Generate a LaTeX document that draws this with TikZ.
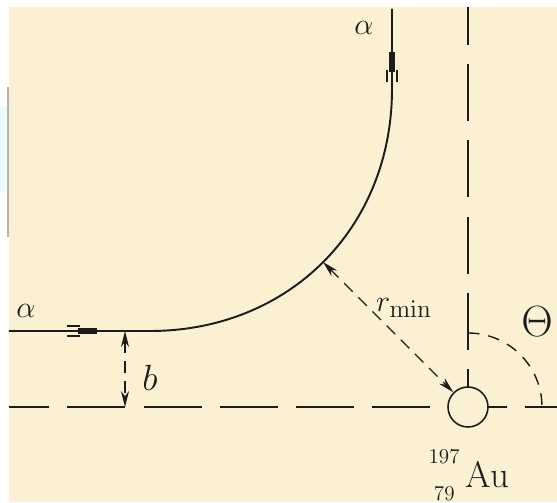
\documentclass[tikz,border=0pt]{standalone}
\usepackage[table]{xcolor}
\definecolor{cream}{HTML}{FCF0D2}
\definecolor{ink}{HTML}{1C1C1C}
\definecolor{edgegray}{HTML}{B4B4B4}
\definecolor{paleblue}{HTML}{EEFBFB}
\usepackage{amsmath,amssymb}
\usepackage{tikz}
\usetikzlibrary{arrows.meta,calc}
\tikzset{track/.style={draw=ink,line width=1.1pt},axis/.style={draw=ink,line width=1.1pt,dash pattern=on 1.16cm off 0.365cm},dimarr/.style={<->,>={Stealth[length=3.2mm,width=1.6mm]},draw=ink,line width=0.8pt,dash pattern=on 0.24cm off 0.16cm},lbl/.style={text=ink,inner sep=0pt}}

\begin{document}
\begin{tikzpicture}[font=\normalsize]
\clip (0,0) rectangle (11.14,10.04);
\fill[white] (0,0) rectangle (11.14,10.04);
\fill[cream] (0.18,0) rectangle (11.14,9.90);
\fill[paleblue] (0,6.2) rectangle (0.14,7.9);
\draw[edgegray,line width=0.6pt] (0.16,5.30) -- (0.16,8.30);
% axes through the gold nucleus
\draw[axis,dash phase=0.36cm] (0.18,1.90) -- (11.14,1.90);
\draw[axis,dash pattern=on 1.14cm off 0.385cm,dash phase=0.38cm] (9.36,9.90) -- (9.36,1.90);
\node[circle,draw=ink,line width=0.9pt,fill=cream,minimum size=0.8cm,inner sep=0pt] (nuc) at (9.36,1.90) {};
% alpha track
\coordinate (vtx) at (6.46,4.80);
\draw[track] (0.18,3.42) -- (3.00,3.42) .. controls (5.78,3.42) and (7.84,5.48) .. (7.84,8.26) -- (7.84,9.86);
\draw[ink,line width=3.6pt] (1.56,3.42) -- (1.94,3.42);
\draw[ink,line width=0.8pt] (1.34,3.52) -- (1.60,3.52) (1.34,3.32) -- (1.60,3.32);
\draw[ink,line width=3.6pt] (7.84,8.60) -- (7.84,9.00);
\draw[ink,line width=0.8pt] (7.74,8.40) -- (7.74,8.64) (7.94,8.40) -- (7.94,8.64);
% impact parameter, closest approach, angle
\coordinate (btop) at (2.50,3.42);
\coordinate (bbot) at (2.50,1.90);
\draw[dimarr] (btop) -- (bbot);
\draw[dimarr] (vtx) -- (nuc.135);
\draw[ink,line width=0.8pt,dash pattern=on 0.23cm off 0.18cm] ($(nuc.center)+(0,1.48)$) arc[start angle=90,end angle=0,radius=1.48];
\node[lbl,font=\fontsize{18}{20}\selectfont] (ain) at (0.52,3.82) {$\alpha$};
\node[lbl,font=\fontsize{18}{20}\selectfont] (aout) at (7.28,9.48) {$\alpha$};
\node[lbl,font=\fontsize{20}{22}\selectfont] (blab) at (3.00,2.48) {$b$};
\node[lbl,font=\fontsize{19}{21}\selectfont] (rlab) at (8.08,3.88) {$r_{\mathrm{min}}$};
\node[lbl,font=\fontsize{26}{30}\selectfont] (theta) at (10.74,3.60) {$\Theta$};
\node[lbl,font=\fontsize{21}{24}\selectfont,anchor=base west] (au) at (9.30,0.30) {Au};
\node[lbl,font=\fontsize{12}{14}\selectfont,anchor=base east] (mass) at (9.20,0.78) {197};
\node[lbl,font=\fontsize{12}{14}\selectfont,anchor=base east] (charge) at (9.10,0.04) {79};
\end{tikzpicture}
\end{document}
